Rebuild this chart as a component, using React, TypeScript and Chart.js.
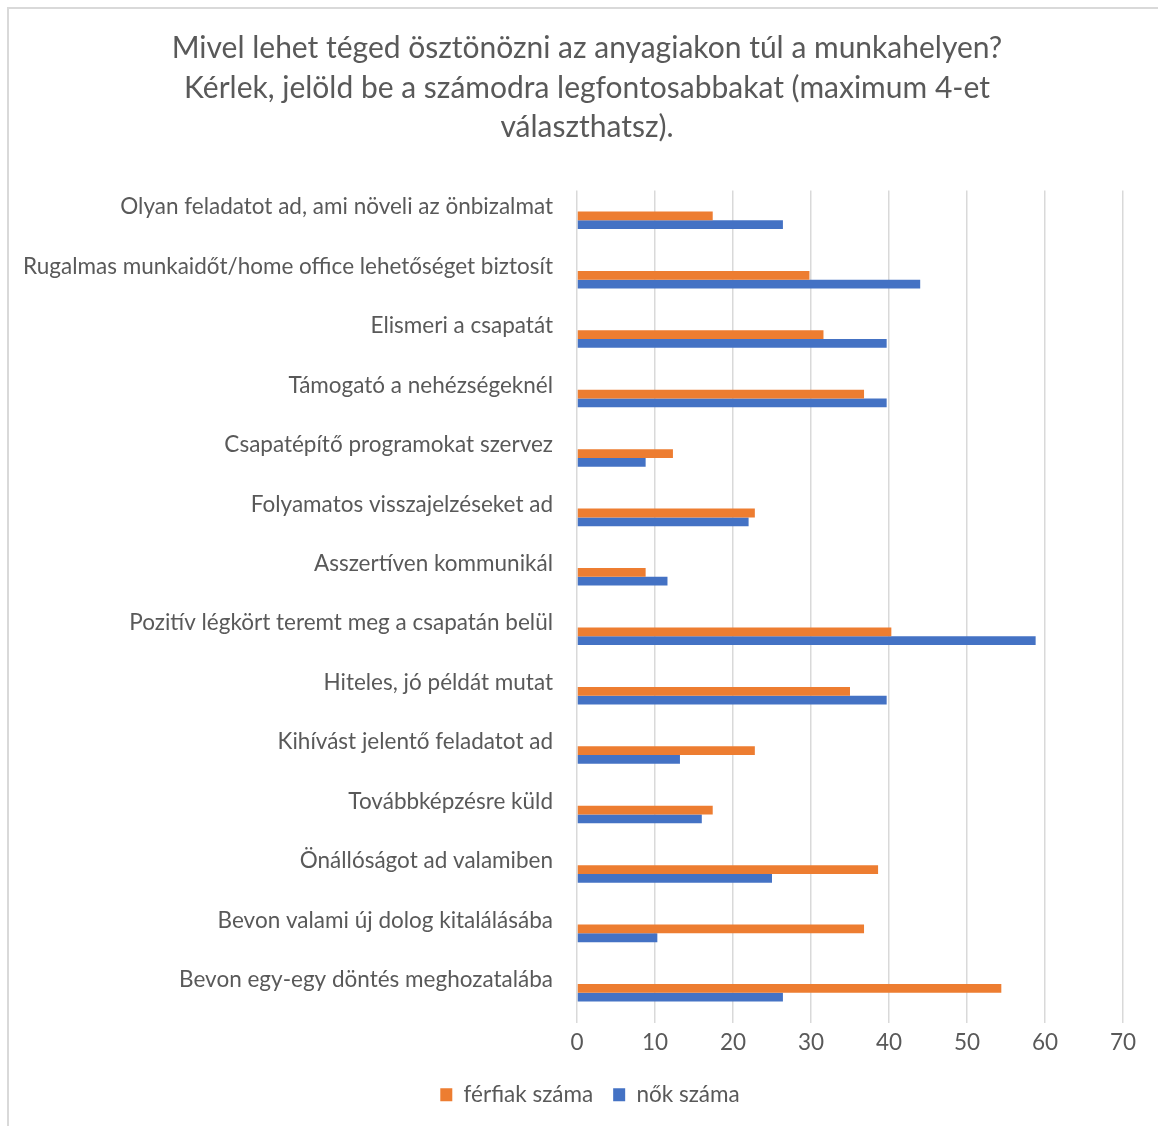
import React, { useEffect, useRef } from "react";
import { Chart, registerables } from "chart.js";

Chart.register(...registerables);

const titleLines = [
  "Mivel lehet téged ösztönözni az anyagiakon túl a munkahelyen?",
  "Kérlek, jelöld be a számodra legfontosabbakat (maximum 4-et",
  "választhatsz).",
];

const categories = [
  "Olyan feladatot ad, ami növeli az önbizalmat",
  "Rugalmas munkaidőt/home office lehetőséget biztosít",
  "Elismeri a csapatát",
  "Támogató a nehézségeknél",
  "Csapatépítő programokat szervez",
  "Folyamatos visszajelzéseket ad",
  "Asszertíven kommunikál",
  "Pozitív légkört teremt meg a csapatán belül",
  "Hiteles, jó példát mutat",
  "Kihívást jelentő feladatot ad",
  "Továbbképzésre küld",
  "Önállóságot ad valamiben",
  "Bevon valami új dolog kitalálásába",
  "Bevon egy-egy döntés meghozatalába",
];

const ferfiak = [17.4, 29.8, 31.6, 36.8, 12.3, 22.8, 8.8, 40.3, 35.0, 22.8, 17.4, 38.6, 36.8, 54.4];
const nok = [26.4, 44.0, 39.7, 39.7, 8.8, 22.0, 11.6, 58.8, 39.7, 13.2, 16.0, 25.0, 10.3, 26.4];

const seriesNames = ["férfiak száma", "nők száma"];
const xTicks = [0, 10, 20, 30, 40, 50, 60, 70];

const FONT = "Lato, 'Open Sans', sans-serif";
const TEXT = "#595959";
const PAD_LEFT = 25;
const Y_AXIS_WIDTH = 552;
const TITLE_SHIFT = 26;
const LEGEND_SHIFT = 32;

const shiftBoxes = {
  id: "shiftBoxes",
  afterLayout(chart: any) {
    if (chart.titleBlock) chart.titleBlock.left += TITLE_SHIFT;
    if (chart.legend) chart.legend.left += LEGEND_SHIFT;
  },
};

export default function App() {
  const ref = useRef<HTMLCanvasElement | null>(null);

  useEffect(() => {
    if (!ref.current) return;
    const chart = new Chart(ref.current, {
      type: "bar",
      data: {
        labels: categories,
        datasets: [
          {
            label: seriesNames[0],
            data: ferfiak,
            backgroundColor: "#ED7D31",
            borderWidth: 0,
            categoryPercentage: 0.295,
            barPercentage: 1,
          },
          {
            label: seriesNames[1],
            data: nok,
            backgroundColor: "#4472C4",
            borderWidth: 0,
            categoryPercentage: 0.295,
            barPercentage: 1,
          },
        ],
      },
      plugins: [shiftBoxes],
      options: {
        indexAxis: "y",
        animation: false,
        responsive: false,
        maintainAspectRatio: false,
        layout: { padding: { top: 29, right: 35, bottom: 10, left: PAD_LEFT } },
        scales: {
          x: {
            min: xTicks[0],
            max: xTicks[xTicks.length - 1],
            afterBuildTicks: (axis: any) => {
              axis.ticks = xTicks.map((v) => ({ value: v }));
            },
            grid: { color: "#D9D9D9", lineWidth: 1.5, drawTicks: false },
            border: { display: false },
            ticks: {
              color: TEXT,
              font: { family: FONT, size: 22.5 },
              padding: 7,
            },
          },
          y: {
            afterFit: (axis: any) => {
              axis.width = Y_AXIS_WIDTH;
            },
            grid: { display: false, drawTicks: false },
            border: { display: false },
            ticks: {
              color: TEXT,
              font: { family: FONT, size: 22.5 },
              padding: 24,
              labelOffset: -13,
              autoSkip: false,
            },
          },
        },
        plugins: {
          title: {
            display: true,
            text: titleLines,
            color: TEXT,
            font: { family: FONT, size: 30, weight: "normal", lineHeight: 1.317 },
            padding: { top: 0, bottom: 43 },
          },
          legend: {
            position: "bottom",
            labels: {
              color: TEXT,
              font: { family: FONT, size: 22.5 },
              boxWidth: 12,
              boxHeight: 13,
              padding: 20,
            },
          },
          tooltip: { enabled: false },
        },
      },
    });
    return () => chart.destroy();
  }, []);

  return (
    <div style={{ position: "fixed", left: 0, top: 0, width: 1158, height: 1126, background: "#fff" }}>
      <div
        style={{
          position: "absolute",
          left: 7,
          top: 7,
          width: 1160,
          height: 1130,
          borderLeft: "2px solid #D9D9D9",
          borderTop: "2px solid #D9D9D9",
          boxSizing: "border-box",
        }}
      />
      <canvas ref={ref} width={1158} height={1126} style={{ position: "absolute", left: 0, top: 0 }} />
    </div>
  );
}
